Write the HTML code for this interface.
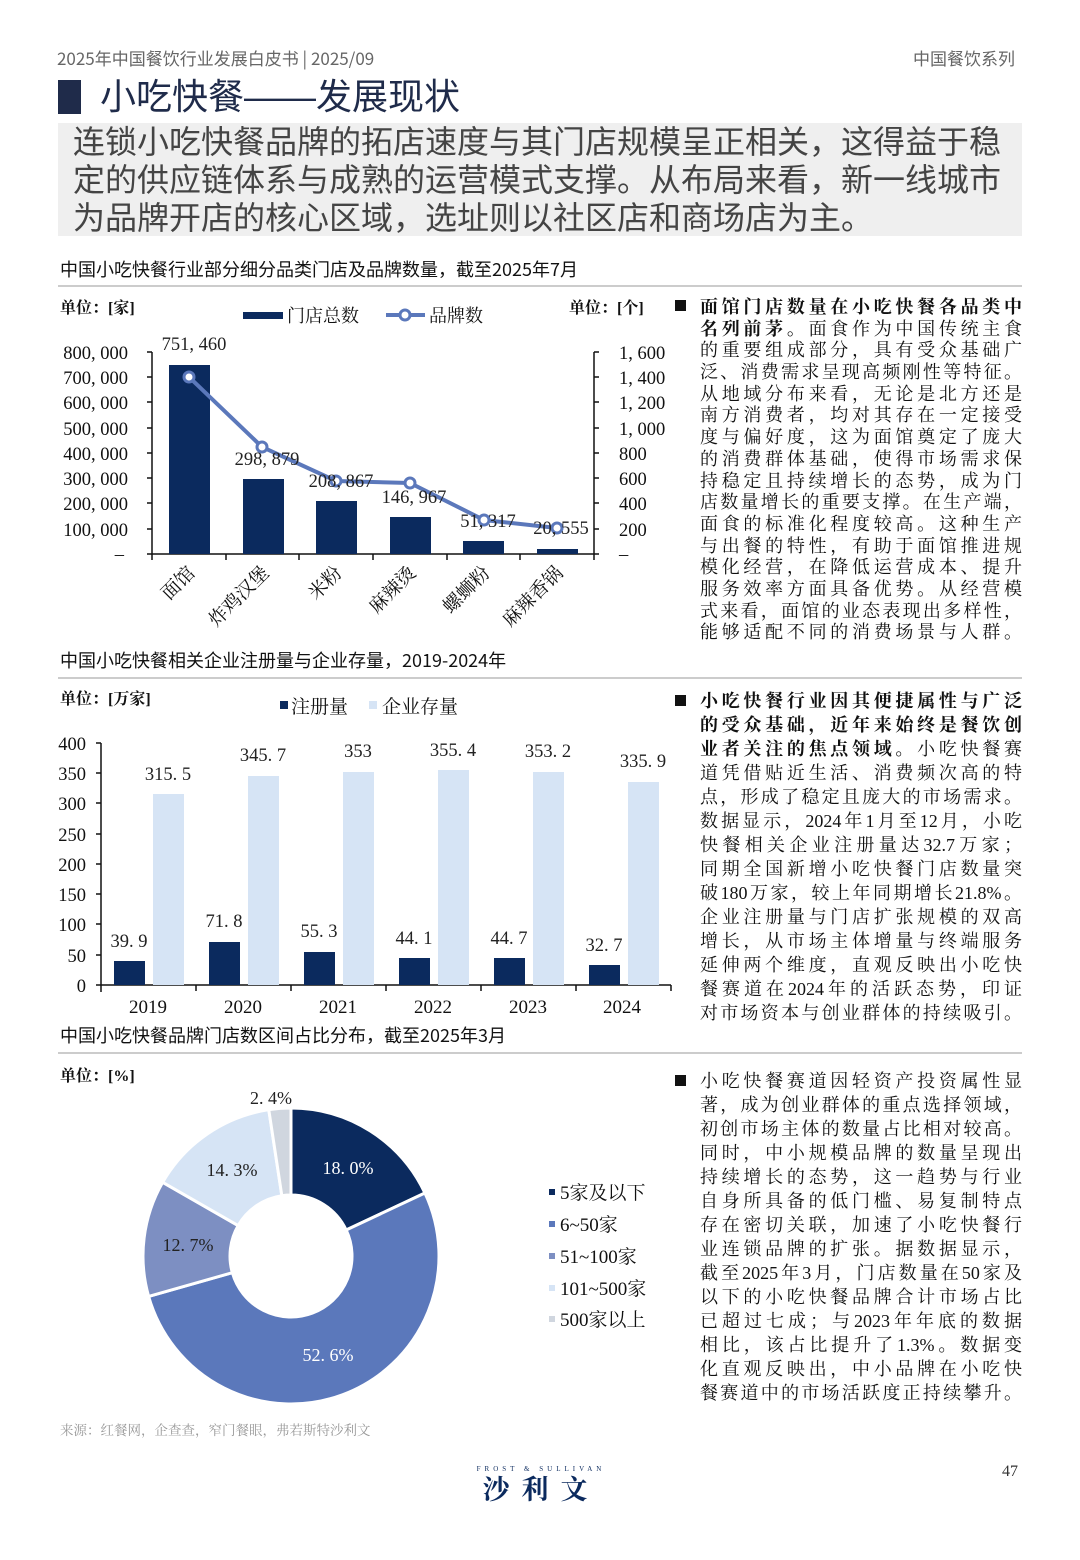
<!DOCTYPE html>
<html><head><meta charset="utf-8">
<style>
body{margin:0;background:#fff;}
#p{position:relative;width:1080px;height:1560px;overflow:hidden;font-family:"Liberation Sans","Noto Sans CJK SC",sans-serif;color:#222;}
.a{position:absolute;white-space:nowrap;}
.col{position:absolute;left:700px;width:322px;font-family:"Liberation Serif","Noto Serif CJK SC",serif;font-size:18px;color:#111;}
.col div{height:21.7px;line-height:21.7px;text-align:justify;text-align-last:justify;white-space:nowrap;}
.col b{font-weight:bold;}
.bul{position:absolute;left:675px;width:11px;height:11px;background:#111;}
.st{position:absolute;left:60px;font-size:18px;color:#111;font-family:"Noto Sans CJK SC",sans-serif;}
.hr{position:absolute;left:58px;width:964px;height:2px;background:#ccc;}
svg text{font-family:"Liberation Serif","Noto Serif CJK SC",serif;}
</style></head><body><div id="p">
<div class="a" style="left:57px;top:46px;font-size:17px;color:#666;font-family:'Noto Sans CJK SC',sans-serif;line-height:24px;">2025年中国餐饮行业发展白皮书 | 2025/09</div>
<div class="a" style="left:913px;top:46px;font-size:17px;color:#666;font-family:'Noto Sans CJK SC',sans-serif;line-height:24px;">中国餐饮系列</div>
<div class="a" style="left:58px;top:80px;width:23px;height:34px;background:#1f2b4a;"></div>
<div class="a" style="left:100px;top:75px;font-size:36px;color:#1f2b4a;line-height:44px;">小吃快餐——发展现状</div>
<div class="a" style="left:58px;top:123px;width:964px;height:113px;background:#efefef;"></div>
<div class="a" style="left:73px;top:123px;font-size:32px;line-height:38px;color:#444;">连锁小吃快餐品牌的拓店速度与其门店规模呈正相关，这得益于稳<br>定的供应链体系与成熟的运营模式支撑。从布局来看，新一线城市<br>为品牌开店的核心区域，选址则以社区店和商场店为主。</div>

<div class="st" style="top:256px;">中国小吃快餐行业部分细分品类门店及品牌数量，截至2025年7月</div>
<div class="hr" style="top:285px;"></div>
<div class="st" style="top:647px;">中国小吃快餐相关企业注册量与企业存量，2019-2024年</div>
<div class="hr" style="top:677px;"></div>
<div class="st" style="top:1022px;">中国小吃快餐品牌门店数区间占比分布，截至2025年3月</div>
<div class="hr" style="top:1052px;"></div>

<svg class="a" style="left:0;top:0" width="1080" height="1560">
<g font-size="16" fill="#111">
<text x="60" y="313" font-family="Noto Sans CJK SC" font-weight="bold" font-size="16">单位：[家]</text>
<text x="569" y="313" font-family="Noto Sans CJK SC" font-weight="bold" font-size="16">单位：[个]</text>
<rect x="243" y="312" width="40" height="7" fill="#0b2a5e"/>
<text x="287" y="322" font-size="18">门店总数</text>
<line x1="386" y1="315" x2="425" y2="315" stroke="#5b78bb" stroke-width="4"/>
<circle cx="405" cy="315" r="5" fill="#fff" stroke="#5b78bb" stroke-width="3"/>
<text x="429" y="322" font-size="18">品牌数</text>
</g>
<g font-size="18.5" fill="#111" text-anchor="end">
<text x="128" y="359">800, 000</text><text x="128" y="384">700, 000</text><text x="128" y="409">600, 000</text><text x="128" y="435">500, 000</text><text x="128" y="460">400, 000</text><text x="128" y="485">300, 000</text><text x="128" y="510">200, 000</text><text x="128" y="536">100, 000</text><text x="124" y="560">–</text>
</g>
<g font-size="18.5" fill="#111">
<text x="619" y="359">1, 600</text><text x="619" y="384">1, 400</text><text x="619" y="409">1, 200</text><text x="619" y="435">1, 000</text><text x="619" y="460">800</text><text x="619" y="485">600</text><text x="619" y="510">400</text><text x="619" y="536">200</text><text x="619" y="560">–</text>
</g>
<g stroke="#111" stroke-width="1.5">
<line x1="152" y1="352" x2="152" y2="560"/><line x1="594" y1="352" x2="594" y2="560"/><line x1="147" y1="554" x2="599" y2="554"/>
<path d="M147 352h5M147 377h5M147 402h5M147 428h5M147 453h5M147 478h5M147 503h5M147 529h5M594 352h5M594 377h5M594 402h5M594 428h5M594 453h5M594 478h5M594 503h5M594 529h5"/>
<path d="M226 554v6M299 554v6M373 554v6M447 554v6M520 554v6"/>
</g>
<g fill="#0b2a5e">
<rect x="169" y="365" width="41" height="189"/><rect x="243" y="479" width="41" height="75"/><rect x="316" y="501" width="41" height="53"/><rect x="390" y="517" width="41" height="37"/><rect x="463" y="541" width="41" height="13"/><rect x="537" y="549" width="41" height="5"/>
</g>
<polyline points="189,377 262,447 336,481 410,483 484,520 557,528" fill="none" stroke="#5b78bb" stroke-width="4"/>
<g fill="#fff" stroke="#5b78bb" stroke-width="3">
<circle cx="189" cy="377" r="5"/><circle cx="262" cy="447" r="5"/><circle cx="336" cy="481" r="5"/><circle cx="410" cy="483" r="5"/><circle cx="484" cy="520" r="5"/><circle cx="557" cy="528" r="5"/>
</g>
<g font-size="18.5" fill="#222" text-anchor="middle">
<text x="194" y="350">751, 460</text><text x="267" y="465">298, 879</text><text x="341" y="487">208, 867</text><text x="414" y="503">146, 967</text><text x="488" y="527">51, 317</text><text x="561" y="534">20, 555</text>
</g>
<g font-size="19" fill="#111" text-anchor="end">
<text transform="translate(196,574) rotate(-45)">面馆</text>
<text transform="translate(270,574) rotate(-45)">炸鸡汉堡</text>
<text transform="translate(343,574) rotate(-45)">米粉</text>
<text transform="translate(417,574) rotate(-45)">麻辣烫</text>
<text transform="translate(491,574) rotate(-45)">螺蛳粉</text>
<text transform="translate(564,574) rotate(-45)">麻辣香锅</text>
</g>

<!-- chart 2 -->
<text x="60" y="704" font-family="Noto Sans CJK SC" font-weight="bold" font-size="16" fill="#111">单位：[万家]</text>
<rect x="280" y="701" width="8" height="8" fill="#0b2a5e"/><text x="291" y="713" font-size="19" fill="#111">注册量</text>
<rect x="369" y="701" width="8" height="8" fill="#d6e4f5"/><text x="382" y="713" font-size="19" fill="#111">企业存量</text>
<g font-size="18.5" fill="#111" text-anchor="end">
<text x="86" y="750">400</text><text x="86" y="780">350</text><text x="86" y="810">300</text><text x="86" y="841">250</text><text x="86" y="871">200</text><text x="86" y="901">150</text><text x="86" y="931">100</text><text x="86" y="962">50</text><text x="86" y="992">0</text>
</g>
<g stroke="#111" stroke-width="1.5">
<line x1="101" y1="743" x2="101" y2="992"/><line x1="96" y1="985" x2="671" y2="985"/>
<path d="M96 743h5M96 773h5M96 803h5M96 834h5M96 864h5M96 894h5M96 924h5M96 955h5M196 985v6M291 985v6M386 985v6M481 985v6M576 985v6M671 985v6"/>
</g>
<g fill="#0b2a5e">
<rect x="114" y="961" width="31" height="24"/><rect x="209" y="942" width="31" height="43"/><rect x="304" y="952" width="31" height="33"/><rect x="399" y="958" width="31" height="27"/><rect x="494" y="958" width="31" height="27"/><rect x="589" y="965" width="31" height="20"/>
</g>
<g fill="#d6e4f5">
<rect x="153" y="794" width="31" height="191"/><rect x="248" y="776" width="31" height="209"/><rect x="343" y="772" width="31" height="213"/><rect x="438" y="770" width="31" height="215"/><rect x="533" y="772" width="31" height="213"/><rect x="628" y="782" width="31" height="203"/>
</g>
<g font-size="18.5" fill="#222" text-anchor="middle">
<text x="129" y="947">39. 9</text><text x="224" y="927">71. 8</text><text x="319" y="937">55. 3</text><text x="414" y="944">44. 1</text><text x="509" y="944">44. 7</text><text x="604" y="951">32. 7</text>
<text x="168" y="780">315. 5</text><text x="263" y="761">345. 7</text><text x="358" y="757">353</text><text x="453" y="756">355. 4</text><text x="548" y="757">353. 2</text><text x="643" y="767">335. 9</text>
</g>
<g font-size="19" fill="#111" text-anchor="middle">
<text x="148" y="1013">2019</text><text x="243" y="1013">2020</text><text x="338" y="1013">2021</text><text x="433" y="1013">2022</text><text x="528" y="1013">2023</text><text x="622" y="1013">2024</text>
</g>

<!-- chart 3 -->
<text x="60" y="1081" font-family="Noto Sans CJK SC" font-weight="bold" font-size="16" fill="#111">单位：[%]</text>
<g id="donut"></g>
<g font-size="18" text-anchor="middle">
<text x="348" y="1174" fill="#fff">18. 0%</text>
<text x="328" y="1361" fill="#fff">52. 6%</text>
<text x="188" y="1251" fill="#222">12. 7%</text>
<text x="232" y="1176" fill="#222">14. 3%</text>
<text x="271" y="1104" fill="#222">2. 4%</text>
</g>
<g font-size="19" fill="#111">
<rect x="549" y="1189" width="6" height="6" fill="#0b2a5e"/><text x="560" y="1199">5家及以下</text>
<rect x="549" y="1221" width="6" height="6" fill="#5b78bb"/><text x="560" y="1231">6~50家</text>
<rect x="549" y="1253" width="6" height="6" fill="#7d8fc2"/><text x="560" y="1263">51~100家</text>
<rect x="549" y="1285" width="6" height="6" fill="#d6e4f5"/><text x="560" y="1295">101~500家</text>
<rect x="549" y="1316" width="6" height="6" fill="#d0d6df"/><text x="560" y="1326">500家以上</text>
</g>
<text x="60" y="1435" font-size="13.5" fill="#999">来源：红餐网，企查查，窄门餐眼，弗若斯特沙利文</text>
<text x="541" y="1471" font-size="7" fill="#0b2a5e" text-anchor="middle" letter-spacing="4">FROST &amp; SULLIVAN</text>
<text x="541" y="1499" font-size="27" fill="#0b2a5e" font-weight="bold" text-anchor="middle" letter-spacing="12" font-family="Noto Sans CJK SC">沙利文</text>
<text x="1002" y="1476" font-size="16" fill="#333">47</text>
</svg>

<div class="bul" style="top:300px;"></div>
<div class="col" style="top:297px;">
<div><b>面馆门店数量在小吃快餐各品类中</b></div>
<div><b>名列前茅。</b>面食作为中国传统主食</div>
<div>的重要组成部分，具有受众基础广</div>
<div>泛、消费需求呈现高频刚性等特征。</div>
<div>从地域分布来看，无论是北方还是</div>
<div>南方消费者，均对其存在一定接受</div>
<div>度与偏好度，这为面馆奠定了庞大</div>
<div>的消费群体基础，使得市场需求保</div>
<div>持稳定且持续增长的态势，成为门</div>
<div>店数量增长的重要支撑。在生产端，</div>
<div>面食的标准化程度较高。这种生产</div>
<div>与出餐的特性，有助于面馆推进规</div>
<div>模化经营，在降低运营成本、提升</div>
<div>服务效率方面具备优势。从经营模</div>
<div>式来看，面馆的业态表现出多样性，</div>
<div>能够适配不同的消费场景与人群。</div>
</div>

<div class="bul" style="top:695px;"></div>
<div class="col" style="top:689px;">
<div style="height:24px;line-height:24px"><b>小吃快餐行业因其便捷属性与广泛</b></div>
<div style="height:24px;line-height:24px"><b>的受众基础，近年来始终是餐饮创</b></div>
<div style="height:24px;line-height:24px"><b>业者关注的焦点领域。</b>小吃快餐赛</div>
<div style="height:24px;line-height:24px">道凭借贴近生活、消费频次高的特</div>
<div style="height:24px;line-height:24px">点，形成了稳定且庞大的市场需求。</div>
<div style="height:24px;line-height:24px">数据显示，2024年1月至12月，小吃</div>
<div style="height:24px;line-height:24px">快餐相关企业注册量达32.7万家；</div>
<div style="height:24px;line-height:24px">同期全国新增小吃快餐门店数量突</div>
<div style="height:24px;line-height:24px">破180万家，较上年同期增长21.8%。</div>
<div style="height:24px;line-height:24px">企业注册量与门店扩张规模的双高</div>
<div style="height:24px;line-height:24px">增长，从市场主体增量与终端服务</div>
<div style="height:24px;line-height:24px">延伸两个维度，直观反映出小吃快</div>
<div style="height:24px;line-height:24px">餐赛道在2024年的活跃态势，印证</div>
<div style="height:24px;line-height:24px">对市场资本与创业群体的持续吸引。</div>
</div>

<div class="bul" style="top:1075px;"></div>
<div class="col" style="top:1069px;">
<div style="height:24px;line-height:24px">小吃快餐赛道因轻资产投资属性显</div>
<div style="height:24px;line-height:24px">著，成为创业群体的重点选择领域，</div>
<div style="height:24px;line-height:24px">初创市场主体的数量占比相对较高。</div>
<div style="height:24px;line-height:24px">同时，中小规模品牌的数量呈现出</div>
<div style="height:24px;line-height:24px">持续增长的态势，这一趋势与行业</div>
<div style="height:24px;line-height:24px">自身所具备的低门槛、易复制特点</div>
<div style="height:24px;line-height:24px">存在密切关联，加速了小吃快餐行</div>
<div style="height:24px;line-height:24px">业连锁品牌的扩张。据数据显示，</div>
<div style="height:24px;line-height:24px">截至2025年3月，门店数量在50家及</div>
<div style="height:24px;line-height:24px">以下的小吃快餐品牌合计市场占比</div>
<div style="height:24px;line-height:24px">已超过七成；与2023年年底的数据</div>
<div style="height:24px;line-height:24px">相比，该占比提升了1.3%。数据变</div>
<div style="height:24px;line-height:24px">化直观反映出，中小品牌在小吃快</div>
<div style="height:24px;line-height:24px">餐赛道中的市场活跃度正持续攀升。</div>
</div>
</div>
<script>
(function(){
var cx=291,cy=1256,R=148,r=61,vals=[18.0,52.6,12.7,14.3,2.4],cols=["#0b2a5e","#5b78bb","#7d8fc2","#d6e4f5","#d0d6df"];
var g=document.getElementById("donut"),a=0,s="";
function pt(rad,ang){return [cx+rad*Math.sin(ang),cy-rad*Math.cos(ang)];}
for(var i=0;i<5;i++){
 var a0=a*Math.PI*2/100,a1=(a+vals[i])*Math.PI*2/100;a+=vals[i];
 var lg=(a1-a0)>Math.PI?1:0,p1=pt(R,a0),p2=pt(R,a1),p3=pt(r,a1),p4=pt(r,a0);
 s+='<path d="M'+p1+' A'+R+' '+R+' 0 '+lg+' 1 '+p2+' L'+p3+' A'+r+' '+r+' 0 '+lg+' 0 '+p4+' Z" fill="'+cols[i]+'" stroke="#fff" stroke-width="3"/>';
}
g.innerHTML=s;
})();
</script>
</body></html>
